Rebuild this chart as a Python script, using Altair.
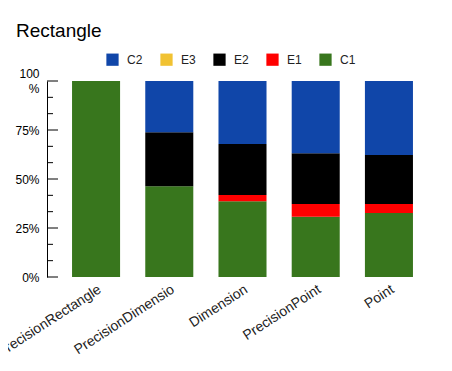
import altair as alt
import pandas as pd

categories = ["PrecisionRectangle", "PrecisionDimensio", "Dimension", "PrecisionPoint", "Point"]
series = ["C1", "E1", "E2", "E3", "C2"]  # bottom to top
c1 = [100.0, 46.3, 38.7, 30.7, 32.7]
e1 = [0.0, 0.0, 3.2, 6.6, 4.6]
e2 = [0.0, 27.6, 25.9, 25.9, 24.9]
e3 = [0.0, 0.0, 0.0, 0.0, 0.0]
c2 = [0.0, 26.1, 32.2, 36.8, 37.8]

legend_order = ["C2", "E3", "E2", "E1", "C1"]
colors = ["#1046a9", "#f1c232", "#000000", "#ff0000", "#38761d"]

values = {"C1": c1, "E1": e1, "E2": e2, "E3": e3, "C2": c2}
rows = []
for i, cat in enumerate(categories):
    total = sum(values[s][i] for s in series)
    acc = 0.0
    for s in series:
        v = values[s][i]
        if v > 0:
            rows.append({"category": cat, "series": s,
                         "y0": acc / total, "y1": (acc + v) / total})
        acc += v
df = pd.DataFrame(rows)

major_ticks = pd.DataFrame({"v": [0, 0.25, 0.5, 0.75, 1]})
minor_ticks = pd.DataFrame({"v": [i / 12 for i in range(13) if i % 3 != 0]})

FONT = "Liberation Sans"

bars = alt.Chart(df).mark_bar().encode(
    x=alt.X("category:N", sort=categories, title=None,
            scale=alt.Scale(paddingInner=0.344, paddingOuter=0.342),
            axis=alt.Axis(labelAngle=-33, ticks=False, domain=False,
                          labelFont=FONT, labelFontSize=14, labelColor="#222222",
                          labelPadding=5, labelLimit=300)),
    y=alt.Y("y0:Q", title=None,
            scale=alt.Scale(domain=[0, 1], nice=False),
            axis=alt.Axis(values=[0, 0.25, 0.5, 0.75, 1], format=".0%",
                          labelExpr="datum.value >= 1 ? ['100', '%'] : datum.label",
                          labelOffset={"condition": {"test": "datum.value >= 1", "value": -7.5},
                                       "value": 0},
                          ticks=False, grid=False, domainColor="#000000",
                          labelFont=FONT, labelFontSize=12, labelColor="#000000",
                          labelPadding=8, labelLineHeight=15)),
    y2="y1:Q",
    color=alt.Color("series:N", scale=alt.Scale(domain=legend_order, range=colors),
                    legend=alt.Legend(title=None, orient="none", direction="horizontal",
                                      legendX=59, legendY=-28,
                                      symbolType="square", symbolSize=150,
                                      symbolStrokeWidth=0, symbolOpacity=1,
                                      labelFont=FONT, labelFontSize=12,
                                      labelColor="#222222",
                                      labelOffset=8, columnPadding=17)),
)

major = alt.Chart(major_ticks).mark_rule(color="#000000", strokeWidth=1).encode(
    y="v:Q", x=alt.value(0), x2=alt.value(11))
minor = alt.Chart(minor_ticks).mark_rule(color="#000000", strokeWidth=1).encode(
    y="v:Q", x=alt.value(0), x2=alt.value(6))

chart = alt.layer(bars, major, minor).properties(
    width=391, height=196,
    title=alt.TitleParams("Rectangle", anchor="start", frame="group",
                          font=FONT, fontSize=19, fontWeight="normal",
                          color="#000000", dx=-31, offset=12),
    autosize=alt.AutoSizeParams(type="none"),
    padding={"left": 39, "top": 73, "right": 6, "bottom": 86},
).configure_view(stroke=None)

chart.save("out.html", embed_options={"renderer": "svg", "actions": False})
